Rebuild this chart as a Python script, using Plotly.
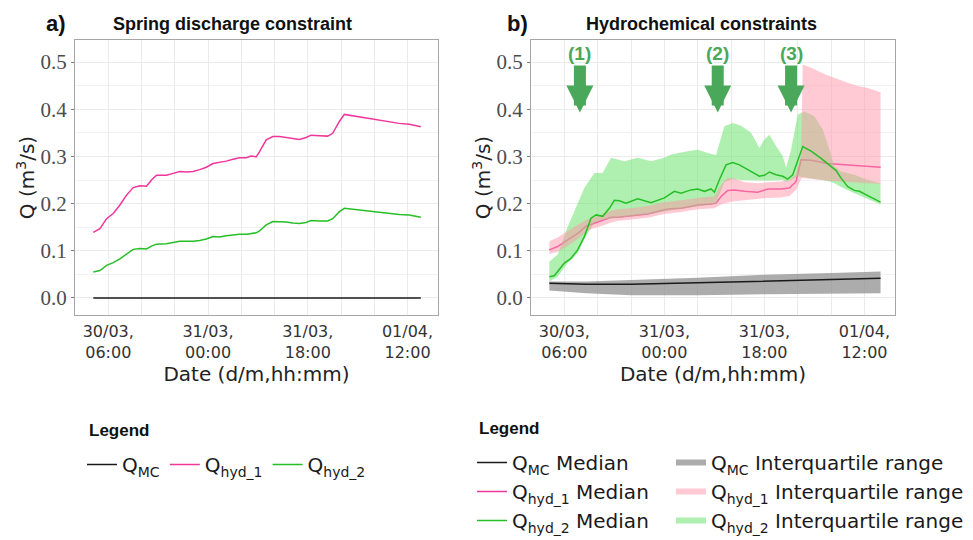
import plotly.graph_objects as go
import pandas as pd

BASE = pd.Timestamp("2021-03-30 00:00")

# ---------------- Panel a data (hours since 30/03 00:00) ----------------
hours_a = [3.3, 4.5, 5.7, 6.9, 8.1, 9.3, 10.5, 11.7, 12.9, 13.8, 14.7, 16.5, 17.7, 18.9, 20.1,
           21.3, 22.5, 23.7, 24.9, 26.1, 27.3, 28.5, 29.7, 30.9, 31.8, 32.7, 33.3, 34.5, 35.7,
           36.9, 38.1, 39.3, 40.5, 41.7, 42.6, 44.1, 45.6, 46.5, 47.7, 48.6, 50.1, 52.5, 54.9,
           57.3, 58.5, 60.3, 62.4]
hyd1_a = [0.139, 0.147, 0.168, 0.179, 0.197, 0.218, 0.234, 0.238, 0.237, 0.250,
          0.260, 0.260, 0.264, 0.268, 0.267, 0.268, 0.272, 0.277, 0.285, 0.287,
          0.290, 0.294, 0.297, 0.297, 0.301, 0.299, 0.310, 0.335, 0.342, 0.342,
          0.340, 0.338, 0.336, 0.340, 0.345, 0.344, 0.343, 0.349, 0.374, 0.389,
          0.386, 0.381, 0.376, 0.371, 0.370, 0.368, 0.363]
hyd2_a = [0.055, 0.058, 0.069, 0.075, 0.083, 0.094, 0.103, 0.105, 0.104, 0.110,
          0.114, 0.115, 0.117, 0.120, 0.120, 0.120, 0.122, 0.125, 0.130, 0.129,
          0.132, 0.134, 0.135, 0.135, 0.137, 0.138, 0.142, 0.155, 0.162, 0.162,
          0.161, 0.159, 0.158, 0.160, 0.164, 0.163, 0.163, 0.168, 0.183, 0.190,
          0.188, 0.185, 0.182, 0.178, 0.177, 0.176, 0.171]
mc_hours_a = [3.3, 62.4]
mc_a = [0.0, 0.0]

# ---------------- Panel b data ----------------
mc_hours_b = [3.3, 10.0, 18.0, 30.0, 42.0, 54.0, 62.9]
mc_low_b = [0.016, 0.010, 0.006, 0.006, 0.008, 0.009, 0.010]
mc_med_b = [0.031, 0.029, 0.029, 0.032, 0.036, 0.039, 0.042]
mc_up_b = [0.035, 0.035, 0.038, 0.043, 0.049, 0.053, 0.056]

hyd1_band_hours = [3.3, 4.8, 6.6, 8.4, 9.9, 11.1, 12.6, 14.4, 15.6, 18.0, 21.0, 24.0, 27.0,
                   30.0, 31.8, 33.0, 34.2, 35.4, 36.6, 38.4, 40.8, 42.6, 45.0, 46.5, 47.7,
                   48.6, 48.9, 50.4, 53.1, 57.0, 58.8, 60.6, 62.9]
hyd1_low_b = [0.093, 0.098, 0.110, 0.125, 0.140, 0.147, 0.152, 0.160, 0.163, 0.166,
              0.170, 0.178, 0.182, 0.188, 0.190, 0.190, 0.198, 0.2025, 0.205, 0.207,
              0.209, 0.212, 0.213, 0.216, 0.229, 0.252, 0.254, 0.252, 0.249, 0.246,
              0.244, 0.243, 0.242]
hyd1_up_b = [0.120, 0.128, 0.142, 0.155, 0.165, 0.170, 0.176, 0.185, 0.188, 0.190,
             0.195, 0.203, 0.207, 0.212, 0.214, 0.215, 0.240, 0.255, 0.253, 0.245,
             0.243, 0.245, 0.247, 0.250, 0.262, 0.300, 0.495, 0.488, 0.473, 0.456,
             0.449, 0.445, 0.436]
hyd1_med_hours = [3.3, 4.8, 6.6, 8.4, 9.9, 11.1, 12.6, 14.4, 15.6, 18.0, 21.0, 24.0, 25.2,
                  27.0, 30.0, 32.4, 33.3, 34.2, 35.4, 36.6, 38.4, 40.8, 42.6, 45.0, 46.5,
                  47.7, 48.6, 50.4, 53.4, 55.8, 58.8, 62.9]
hyd1_med_b = [0.102, 0.109, 0.123, 0.137, 0.152, 0.157, 0.162, 0.171, 0.171, 0.174,
              0.178, 0.187, 0.189, 0.190, 0.197, 0.199, 0.201, 0.215, 0.228, 0.229,
              0.226, 0.224, 0.231, 0.231, 0.233, 0.247, 0.293, 0.292, 0.285, 0.283,
              0.280, 0.277]

hyd2_band_hours = [3.3, 4.8, 6.6, 8.4, 9.6, 11.4, 12.9, 14.4, 16.8, 19.2, 21.6, 24.0, 25.2,
                   28.2, 30.0, 31.8, 33.3, 34.8, 36.3, 37.8, 39.6, 41.1, 42.0, 42.9, 44.1,
                   45.3, 45.9, 46.8, 48.0, 49.2, 51.0, 52.5, 53.7, 54.6, 55.8, 58.2, 60.6, 62.9]
hyd2_up_b = [0.077, 0.092, 0.151, 0.200, 0.233, 0.265, 0.265, 0.297, 0.290, 0.297,
             0.290, 0.297, 0.304, 0.311, 0.314, 0.307, 0.303, 0.364, 0.371, 0.365,
             0.350, 0.318, 0.336, 0.346, 0.322, 0.301, 0.276, 0.314, 0.389, 0.395,
             0.385, 0.357, 0.314, 0.279, 0.268, 0.261, 0.250, 0.243]
hyd2_low_b = [0.035, 0.045, 0.074, 0.095, 0.125, 0.160, 0.166, 0.168, 0.172, 0.175,
              0.178, 0.183, 0.185, 0.190, 0.194, 0.196, 0.200, 0.245, 0.252, 0.250,
              0.249, 0.249, 0.249, 0.249, 0.249, 0.250, 0.246, 0.250, 0.258, 0.255,
              0.252, 0.250, 0.247, 0.243, 0.235, 0.222, 0.210, 0.198]
hyd2_med_hours = [3.3, 4.2, 4.8, 6.0, 7.2, 8.4, 9.6, 10.8, 11.7, 12.9, 14.1, 15.0, 15.9,
                  17.1, 19.2, 21.6, 24.0, 25.8, 27.0, 28.8, 30.0, 31.2, 32.4, 33.0, 33.9,
                  35.1, 36.3, 37.5, 39.0, 41.1, 42.0, 42.9, 44.1, 45.3, 46.2, 47.1, 48.9,
                  50.4, 52.2, 53.7, 54.9, 55.8, 57.0, 58.2, 59.1, 60.6, 62.9]
hyd2_med_b = [0.045, 0.047, 0.056, 0.074, 0.084, 0.102, 0.130, 0.169, 0.176, 0.173,
              0.190, 0.207, 0.206, 0.201, 0.210, 0.202, 0.212, 0.226, 0.222, 0.229,
              0.231, 0.226, 0.231, 0.224, 0.2505, 0.282, 0.287, 0.282, 0.272, 0.258,
              0.260, 0.267, 0.261, 0.258, 0.252, 0.261, 0.321, 0.311, 0.296, 0.282,
              0.270, 0.254, 0.236, 0.228, 0.226, 0.217, 0.203]

# event arrows (hours) and labels
event_hours = [8.8, 33.6, 46.8]
event_labels = ["(1)", "(2)", "(3)"]
event_tip_q = 0.393

# axis ticks
tick_hours = [6, 24, 42, 60]
tick_text = ["30/03,<br>06:00", "31/03,<br>00:00", "31/03,<br>18:00", "01/04,<br>12:00"]
x_range_hours = [0.0, 65.5]
y_range = [-0.0361, 0.5467]


def to_time(hours):
    return [BASE + pd.Timedelta(hours=h) for h in hours]


C_PINK = "#F0359B"
C_GREEN = "#27BF27"
C_BLACK = "#1a1a1a"
C_ARROW = "#4aa85a"
LEG_FONT = dict(family="DejaVu Sans", size=20, color="#1a1a1a")

fig = go.Figure()

# ---- Panel a ----
fig.add_trace(go.Scatter(x=to_time(mc_hours_a), y=mc_a, mode="lines", name="Q<sub>MC</sub>",
                         line=dict(color=C_BLACK, width=1.5), xaxis="x", yaxis="y", legend="legend"))
fig.add_trace(go.Scatter(x=to_time(hours_a), y=hyd1_a, mode="lines", name="Q<sub>hyd_1</sub>",
                         line=dict(color=C_PINK, width=1.5), xaxis="x", yaxis="y", legend="legend"))
fig.add_trace(go.Scatter(x=to_time(hours_a), y=hyd2_a, mode="lines", name="Q<sub>hyd_2</sub>",
                         line=dict(color=C_GREEN, width=1.5), xaxis="x", yaxis="y", legend="legend"))

# ---- Panel b ----
# MC band + median
fig.add_trace(go.Scatter(x=to_time(mc_hours_b), y=mc_low_b, mode="lines", line=dict(width=0),
                         showlegend=False, xaxis="x2", yaxis="y2", hoverinfo="skip"))
fig.add_trace(go.Scatter(x=to_time(mc_hours_b), y=mc_up_b, mode="none", fill="tonexty",
                         fillcolor="rgba(140,140,140,0.72)", name="Q<sub>MC</sub> Interquartile range",
                         xaxis="x2", yaxis="y2", legend="legend3", legendrank=1))
fig.add_trace(go.Scatter(x=to_time(mc_hours_b), y=mc_med_b, mode="lines", name="Q<sub>MC</sub> Median",
                         line=dict(color=C_BLACK, width=1.5), xaxis="x2", yaxis="y2",
                         legend="legend2", legendrank=1))
# hyd_1 median (under the bands)
fig.add_trace(go.Scatter(x=to_time(hyd1_med_hours), y=hyd1_med_b, mode="lines",
                         name="Q<sub>hyd_1</sub> Median", line=dict(color=C_PINK, width=1.5),
                         xaxis="x2", yaxis="y2", legend="legend2", legendrank=2))
# hyd_2 band
fig.add_trace(go.Scatter(x=to_time(hyd2_band_hours), y=hyd2_low_b, mode="lines", line=dict(width=0),
                         showlegend=False, xaxis="x2", yaxis="y2", hoverinfo="skip"))
fig.add_trace(go.Scatter(x=to_time(hyd2_band_hours), y=hyd2_up_b, mode="none", fill="tonexty",
                         fillcolor="rgba(110,225,110,0.55)", name="Q<sub>hyd_2</sub> Interquartile range",
                         xaxis="x2", yaxis="y2", legend="legend3", legendrank=3))
# hyd_1 band
fig.add_trace(go.Scatter(x=to_time(hyd1_band_hours), y=hyd1_low_b, mode="lines", line=dict(width=0),
                         showlegend=False, xaxis="x2", yaxis="y2", hoverinfo="skip"))
fig.add_trace(go.Scatter(x=to_time(hyd1_band_hours), y=hyd1_up_b, mode="none", fill="tonexty",
                         fillcolor="rgba(255,150,170,0.5)", name="Q<sub>hyd_1</sub> Interquartile range",
                         xaxis="x2", yaxis="y2", legend="legend3", legendrank=2))
# hyd_2 median on top
fig.add_trace(go.Scatter(x=to_time(hyd2_med_hours), y=hyd2_med_b, mode="lines",
                         name="Q<sub>hyd_2</sub> Median", line=dict(color=C_GREEN, width=1.5),
                         xaxis="x2", yaxis="y2", legend="legend2", legendrank=3))

W, H = 973, 540
tick_times = to_time(tick_hours)
x_range = to_time(x_range_hours)


def xaxis_style(domain):
    return dict(
        domain=domain, type="date", range=x_range,
        tickmode="array", tickvals=tick_times, ticktext=tick_text,
        ticks="", ticklabelstandoff=2, showgrid=True, gridcolor="#ebebeb", gridwidth=1,
        minor=dict(dtick=6 * 3600 * 1000, tick0=BASE, showgrid=True, gridcolor="#ebebeb", ticks=""),
        showline=True, linecolor="#a6a6a6", linewidth=1, mirror=True, zeroline=False,
        tickfont=dict(family="DejaVu Sans", size=16, color="#333333"),
        title=dict(text="Date (d/m,hh:mm)", font=dict(family="DejaVu Sans", size=20, color="#222222"),
                   standoff=3),
    )


def yaxis_style(domain, anchor):
    return dict(
        domain=domain, anchor=anchor, range=y_range, tick0=0, dtick=0.1, tickformat=".1f",
        ticks="outside", ticklen=3, tickcolor="#7f7f7f",
        showgrid=True, gridcolor="#ebebeb", gridwidth=1,
        minor=dict(dtick=0.05, tick0=0, showgrid=True, gridcolor="#f2f2f2", ticks=""),
        showline=True, linecolor="#a6a6a6", linewidth=1, mirror=True, zeroline=False,
        tickfont=dict(family="Liberation Serif", size=21, color="#4d4d4d"),
        title=dict(text="Q (m<sup>3</sup>/s)", font=dict(family="DejaVu Sans", size=20, color="#222222"),
                   standoff=0),
    )


ydom = [1 - 315 / H, 1 - 40 / H]
fig.update_layout(
    width=W, height=H, margin=dict(l=0, r=0, t=0, b=0),
    paper_bgcolor="white", plot_bgcolor="white",
    xaxis=dict(xaxis_style([75 / W, 438 / W]), anchor="y"),
    yaxis=yaxis_style(ydom, "x"),
    xaxis2=dict(xaxis_style([531 / W, 895 / W]), anchor="y2"),
    yaxis2=yaxis_style(ydom, "x2"),
    legend=dict(orientation="h", x=82 / W, y=1 - 445 / H, xanchor="left", yanchor="top",
                font=LEG_FONT, bgcolor="rgba(0,0,0,0)", itemwidth=30, traceorder="normal"),
    legend2=dict(orientation="v", x=472 / W, y=0, xanchor="left", yanchor="bottom",
                 font=LEG_FONT, bgcolor="rgba(0,0,0,0)", itemwidth=30, traceorder="normal"),
    legend3=dict(orientation="v", x=671 / W, y=0, xanchor="left", yanchor="bottom",
                 font=LEG_FONT, bgcolor="rgba(0,0,0,0)", itemwidth=30, traceorder="normal"),
    hovermode=False,
)

ann = []
title_font = dict(family="Liberation Sans", size=18, color="#111111")
ann.append(dict(text="<b>a)</b>", x=44 / W, y=1 - 24 / H, xref="paper", yref="paper",
                xanchor="left", yanchor="middle", showarrow=False,
                font=dict(family="Liberation Sans", size=22, color="#111111")))
ann.append(dict(text="<b>Spring discharge constraint</b>", x=111 / W, y=1 - 24 / H, xref="paper",
                yref="paper", xanchor="left", yanchor="middle", showarrow=False, font=title_font))
ann.append(dict(text="<b>b)</b>", x=505 / W, y=1 - 24 / H, xref="paper", yref="paper",
                xanchor="left", yanchor="middle", showarrow=False,
                font=dict(family="Liberation Sans", size=22, color="#111111")))
ann.append(dict(text="<b>Hydrochemical constraints</b>", x=584 / W, y=1 - 24 / H, xref="paper",
                yref="paper", xanchor="left", yanchor="middle", showarrow=False, font=title_font))
leg_title_font = dict(family="Liberation Sans", size=17, color="#111111")
ann.append(dict(text="<b>Legend</b>", x=87 / W, y=1 - 430 / H, xref="paper", yref="paper",
                xanchor="left", yanchor="middle", showarrow=False, font=leg_title_font))
ann.append(dict(text="<b>Legend</b>", x=477 / W, y=1 - 428 / H, xref="paper", yref="paper",
                xanchor="left", yanchor="middle", showarrow=False, font=leg_title_font))
for h, lab in zip(event_hours, event_labels):
    ann.append(dict(text="<b>" + lab + "</b>", x=BASE + pd.Timedelta(hours=h), y=event_tip_q,
                    xref="x2", yref="y2", ax=0, ay=-59, showarrow=True, arrowhead=2,
                    arrowsize=0.45, arrowwidth=12, arrowcolor=C_ARROW, standoff=0,
                    font=dict(family="Liberation Sans", size=19, color=C_ARROW)))
fig.update_layout(annotations=ann)

fig.write_html("out.html")
